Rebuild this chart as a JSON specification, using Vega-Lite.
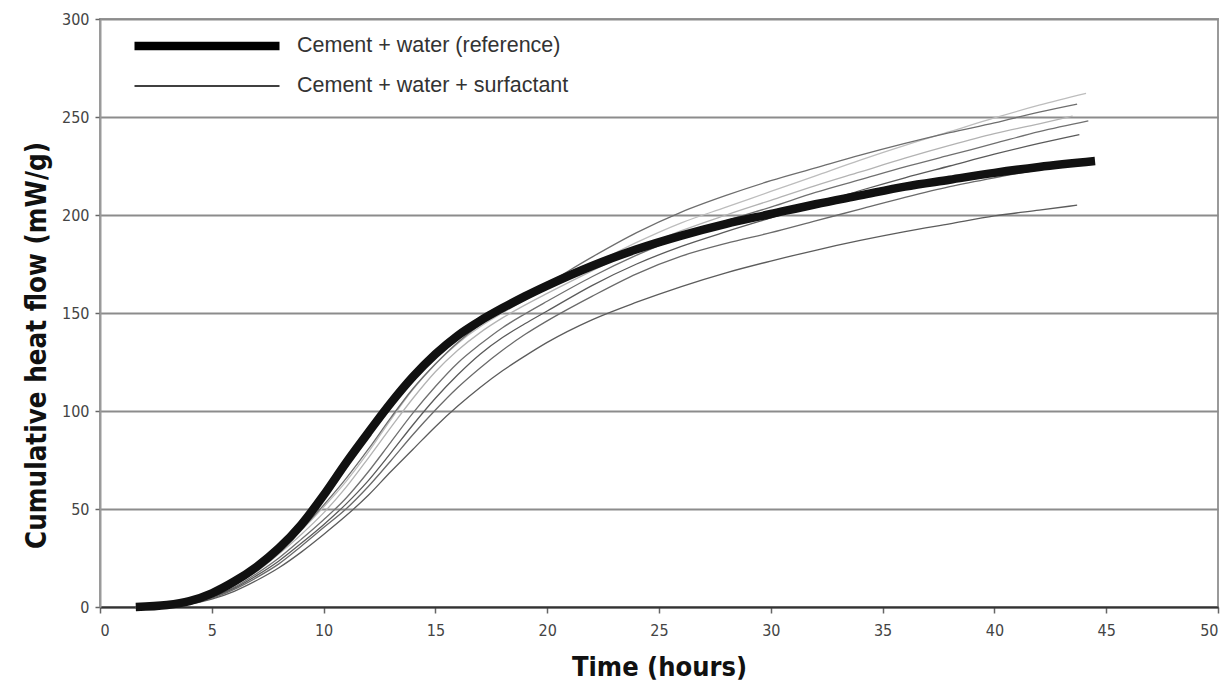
{
  "$schema": "https://vega.github.io/schema/vega-lite/v6.json",
  "width": 1118,
  "height": 588,
  "autosize": "none",
  "padding": {"left": 100, "top": 19, "right": 14, "bottom": 79},
  "background": "white",
  "config": {
    "view": {"stroke": "#9a9a9a", "strokeWidth": 2},
    "font": "DejaVu Sans Condensed"
  },
  "datasets": {
    "groups": [
      {"series": "R", "group": "Cement + water (reference)"},
      {"series": "S1", "group": "Cement + water + surfactant"},
      {"series": "S2", "group": "Cement + water + surfactant"},
      {"series": "S3", "group": "Cement + water + surfactant"},
      {"series": "S4", "group": "Cement + water + surfactant"},
      {"series": "S5", "group": "Cement + water + surfactant"},
      {"series": "S6", "group": "Cement + water + surfactant"},
      {"series": "S7", "group": "Cement + water + surfactant"}
    ],
    "curves": [
      {"time": 1.6, "R": 0, "S1": 0, "S2": 0, "S3": 0, "S4": 0, "S5": 0, "S6": 0, "S7": 0},
      {"time": 3, "R": 1, "S1": 0.5, "S2": 0.5, "S3": 0.5, "S4": 0.5, "S5": 0.5, "S6": 0.5, "S7": 0.5},
      {"time": 4, "R": 3, "S1": 2.5, "S2": 2.5, "S3": 2.5, "S4": 2, "S5": 2, "S6": 2, "S7": 1.5},
      {"time": 5, "R": 7, "S1": 6, "S2": 6, "S3": 5.5, "S4": 5, "S5": 5, "S6": 4.5, "S7": 4},
      {"time": 6, "R": 13, "S1": 11.5, "S2": 11.5, "S3": 11, "S4": 10, "S5": 9.5, "S6": 9, "S7": 8},
      {"time": 7, "R": 20.5, "S1": 19, "S2": 19, "S3": 18, "S4": 17, "S5": 16, "S6": 15, "S7": 13.5},
      {"time": 8, "R": 30, "S1": 28, "S2": 28.5, "S3": 27, "S4": 25, "S5": 23.5, "S6": 22, "S7": 20},
      {"time": 9, "R": 42, "S1": 39, "S2": 39.5, "S3": 37, "S4": 34.5, "S5": 32.5, "S6": 31, "S7": 28},
      {"time": 10, "R": 57, "S1": 51, "S2": 52, "S3": 48, "S4": 44.5, "S5": 42, "S6": 40.5, "S7": 37},
      {"time": 11, "R": 73.5, "S1": 64, "S2": 65.5, "S3": 61, "S4": 55.5, "S5": 52.5, "S6": 50, "S7": 46.5},
      {"time": 12, "R": 89, "S1": 79, "S2": 80.5, "S3": 76, "S4": 69, "S5": 64.5, "S6": 61.5, "S7": 57},
      {"time": 13, "R": 104, "S1": 95.5, "S2": 96.5, "S3": 91.5, "S4": 84, "S5": 78.5, "S6": 74.5, "S7": 69},
      {"time": 14, "R": 117.5, "S1": 111, "S2": 111.5, "S3": 106.5, "S4": 99, "S5": 93, "S6": 88, "S7": 80.5},
      {"time": 15, "R": 129, "S1": 124, "S2": 124, "S3": 120, "S4": 112.5, "S5": 106.5, "S6": 100.5, "S7": 92},
      {"time": 16, "R": 138.5, "S1": 134.5, "S2": 135, "S3": 131, "S4": 124.5, "S5": 118.5, "S6": 112, "S7": 102.5},
      {"time": 17, "R": 146, "S1": 143, "S2": 144, "S3": 140, "S4": 134, "S5": 129, "S6": 122, "S7": 112},
      {"time": 18, "R": 152.5, "S1": 150, "S2": 151.5, "S3": 147.5, "S4": 142.5, "S5": 137.5, "S6": 131, "S7": 120.5},
      {"time": 19, "R": 158.5, "S1": 156.5, "S2": 158.5, "S3": 154, "S4": 149.5, "S5": 144.5, "S6": 139, "S7": 128},
      {"time": 20, "R": 164, "S1": 162.5, "S2": 165, "S3": 160, "S4": 156, "S5": 151, "S6": 146, "S7": 135},
      {"time": 22, "R": 174, "S1": 174.5, "S2": 178.5, "S3": 171.5, "S4": 168.5, "S5": 164, "S6": 158.5, "S7": 146.5},
      {"time": 24, "R": 182.5, "S1": 186, "S2": 191, "S3": 182.5, "S4": 179.5, "S5": 175, "S6": 170, "S7": 155.5},
      {"time": 26, "R": 189.5, "S1": 196, "S2": 201.5, "S3": 192, "S4": 189, "S5": 184, "S6": 179, "S7": 163.5},
      {"time": 28, "R": 195.5, "S1": 204, "S2": 210, "S3": 200, "S4": 197, "S5": 191.5, "S6": 185.5, "S7": 170.5},
      {"time": 30, "R": 200.5, "S1": 212, "S2": 217.5, "S3": 207.5, "S4": 204, "S5": 198.5, "S6": 191, "S7": 176.5},
      {"time": 32, "R": 205.5, "S1": 220, "S2": 224, "S3": 215, "S4": 211.5, "S5": 205.5, "S6": 197, "S7": 182},
      {"time": 34, "R": 210, "S1": 228, "S2": 230.5, "S3": 222, "S4": 218, "S5": 212.5, "S6": 203, "S7": 187},
      {"time": 36, "R": 214.5, "S1": 235.5, "S2": 236.5, "S3": 229, "S4": 224.5, "S5": 219, "S6": 209, "S7": 191.5},
      {"time": 38, "R": 218, "S1": 242.5, "S2": 242, "S3": 235.5, "S4": 230.5, "S5": 225, "S6": 214.5, "S7": 195.5},
      {"time": 40, "R": 221.5, "S1": 249.5, "S2": 247, "S3": 241.5, "S4": 236.5, "S5": 231, "S6": 219, "S7": 199.5},
      {"time": 42, "R": 224.5, "S1": 256, "S2": 252.5, "S3": 246.5, "S4": 242.5, "S5": 236.5, "S6": 223, "S7": 202.5},
      {"time": 43.5, "S3": 250.5},
      {"time": 43.7, "S2": 256.6, "S7": 205},
      {"time": 43.8, "S5": 241},
      {"time": 44, "S6": 226},
      {"time": 44.1, "S1": 262},
      {"time": 44.2, "S4": 248},
      {"time": 44.5, "R": 227.5}
    ]
  },
  "data": {"name": "curves"},
  "transform": [
    {"fold": ["R", "S1", "S2", "S3", "S4", "S5", "S6", "S7"], "as": ["series", "heat"]},
    {"filter": "isValid(datum.heat)"},
    {"lookup": "series", "from": {"data": {"name": "groups"}, "key": "series", "fields": ["group"]}}
  ],
  "encoding": {
    "x": {
      "field": "time", "type": "quantitative",
      "scale": {"domain": [0, 50], "nice": false, "zero": false},
      "axis": {
        "title": "Time (hours)", "values": [0, 5, 10, 15, 20, 25, 30, 35, 40, 45, 50],
        "grid": false, "domainColor": "#333333", "domainWidth": 2,
        "tickColor": "#666666", "tickSize": 6, "tickWidth": 1.5,
        "labelFont": "DejaVu Sans Condensed", "labelFontSize": 16, "labelColor": "#444444", "labelPadding": 9,
        "titleFont": "DejaVu Sans Condensed", "titleFontSize": 27, "titleFontWeight": "bold", "titleColor": "#111111", "titlePadding": 16
      }
    },
    "y": {
      "field": "heat", "type": "quantitative",
      "scale": {"domain": [0, 300], "nice": false},
      "axis": {
        "title": "Cumulative heat flow (mW/g)", "values": [0, 50, 100, 150, 200, 250, 300],
        "grid": true, "gridColor": "#8c8c8c", "gridWidth": 2,
        "domainColor": "#9a9a9a", "domainWidth": 2,
        "tickColor": "#666666", "tickSize": 5, "tickWidth": 1.5,
        "labelFont": "DejaVu Sans Condensed", "labelFontSize": 16, "labelColor": "#444444", "labelPadding": 6,
        "titleFont": "DejaVu Sans Condensed", "titleFontSize": 27.5, "titleFontWeight": "bold", "titleColor": "#111111", "titlePadding": 10,
        "titleY": 326
      }
    },
    "detail": {"field": "series"},
    "strokeWidth": {
      "field": "group", "type": "nominal",
      "scale": {"domain": ["Cement + water (reference)", "Cement + water + surfactant"], "range": [8.5, 1.3]},
      "legend": {
        "title": null, "orient": "none", "legendX": 30, "legendY": 12,
        "symbolType": "stroke", "symbolSize": 21025, "symbolStrokeColor": "#000000",
        "clipHeight": 30, "rowPadding": 10,
        "labelFont": "Liberation Sans", "labelFontSize": 21.5, "labelColor": "#333333", "labelOffset": 13, "labelLimit": 500,
        "padding": 0
      }
    },
    "color": {
      "field": "series", "type": "nominal",
      "scale": {
        "domain": ["R", "S1", "S2", "S3", "S4", "S5", "S6", "S7"],
        "range": ["#111111", "#bdbdbd", "#6e6e6e", "#b3b3b3", "#707070", "#5a5a5a", "#6a6a6a", "#5c5c5c"]
      },
      "legend": null
    }
  },
  "layer": [
    {
      "transform": [{"filter": "datum.series != 'R'"}],
      "mark": {"type": "line", "interpolate": "monotone", "strokeCap": "butt"}
    },
    {
      "transform": [{"filter": "datum.series == 'R'"}],
      "mark": {"type": "line", "interpolate": "monotone", "strokeCap": "butt"}
    }
  ]
}
